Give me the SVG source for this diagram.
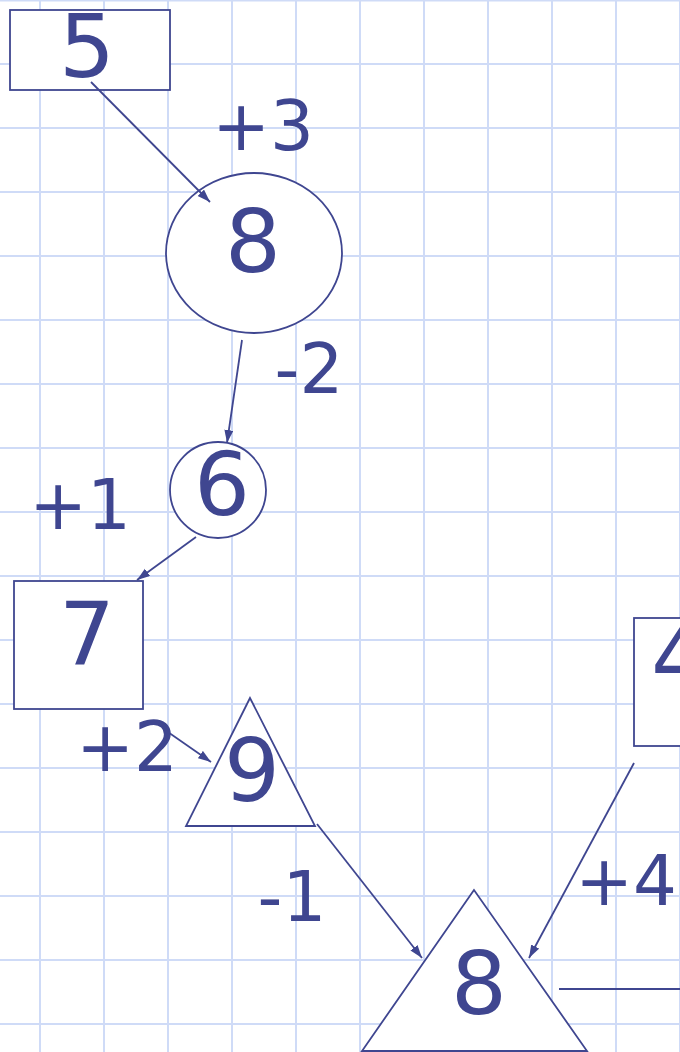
<svg xmlns="http://www.w3.org/2000/svg" width="680" height="1052" viewBox="0 0 680 1052">
  <style>
    .grid line { stroke: #cfdbf7; stroke-width: 2; }
    .shape { fill: #ffffff; stroke: #3f4690; stroke-width: 1.8; }
    .node { font-family: "DejaVu Sans", Verdana, sans-serif; font-size: 88px; fill: #3f4690; text-anchor: middle; }
    .label { font-family: "DejaVu Sans", Verdana, sans-serif; font-size: 69px; fill: #3f4690; text-anchor: middle; }
    .edge { stroke: #3f4690; stroke-width: 1.8; fill: none; }
  </style>
  <defs>
    <marker id="arrow" markerUnits="userSpaceOnUse" markerWidth="14" markerHeight="10" refX="13" refY="4.5" orient="auto">
      <path d="M0,0 L13,4.5 L0,9 Z" fill="#3f4690"/>
    </marker>
  </defs>
  <rect x="0" y="0" width="680" height="1052" fill="#ffffff"/>
  <g class="grid">
    <line x1="40" y1="0" x2="40" y2="1052"/>
    <line x1="104" y1="0" x2="104" y2="1052"/>
    <line x1="168" y1="0" x2="168" y2="1052"/>
    <line x1="232" y1="0" x2="232" y2="1052"/>
    <line x1="296" y1="0" x2="296" y2="1052"/>
    <line x1="360" y1="0" x2="360" y2="1052"/>
    <line x1="424" y1="0" x2="424" y2="1052"/>
    <line x1="488" y1="0" x2="488" y2="1052"/>
    <line x1="552" y1="0" x2="552" y2="1052"/>
    <line x1="616" y1="0" x2="616" y2="1052"/>
    <line x1="680" y1="0" x2="680" y2="1052"/>
    <line x1="0" y1="0.5" x2="680" y2="0.5"/>
    <line x1="0" y1="64" x2="680" y2="64"/>
    <line x1="0" y1="128" x2="680" y2="128"/>
    <line x1="0" y1="192" x2="680" y2="192"/>
    <line x1="0" y1="256" x2="680" y2="256"/>
    <line x1="0" y1="320" x2="680" y2="320"/>
    <line x1="0" y1="384" x2="680" y2="384"/>
    <line x1="0" y1="448" x2="680" y2="448"/>
    <line x1="0" y1="512" x2="680" y2="512"/>
    <line x1="0" y1="576" x2="680" y2="576"/>
    <line x1="0" y1="640" x2="680" y2="640"/>
    <line x1="0" y1="704" x2="680" y2="704"/>
    <line x1="0" y1="768" x2="680" y2="768"/>
    <line x1="0" y1="832" x2="680" y2="832"/>
    <line x1="0" y1="896" x2="680" y2="896"/>
    <line x1="0" y1="960" x2="680" y2="960"/>
    <line x1="0" y1="1024" x2="680" y2="1024"/>
  </g>
  <g id="node-5">
    <rect class="shape" x="10" y="10" width="160" height="80"/>
    <text class="node" x="87" y="77">5</text>
  </g>
  <g id="node-8-circle">
    <ellipse class="shape" cx="254" cy="253" rx="88" ry="80"/>
    <text class="node" x="253" y="272">8</text>
  </g>
  <g id="node-6">
    <circle class="shape" cx="218" cy="490" r="48"/>
    <text class="node" x="222" y="515">6</text>
  </g>
  <g id="node-7">
    <rect class="shape" x="14" y="581" width="129" height="128"/>
    <text class="node" x="87" y="665">7</text>
  </g>
  <g id="node-9">
    <polygon class="shape" points="250,698 186,826 315,826"/>
    <text class="node" x="252" y="801">9</text>
  </g>
  <g id="node-8-triangle">
    <polygon class="shape" points="474,890 362,1051 587,1051"/>
    <text class="node" x="479" y="1014">8</text>
  </g>
  <g id="node-4">
    <rect class="shape" x="634" y="618" width="100" height="128"/>
    <text class="node" x="651" y="688" style="text-anchor:start">4</text>
  </g>
  <g id="connectors">
    <line class="edge" x1="91" y1="82" x2="210" y2="202" marker-end="url(#arrow)"/>
    <line class="edge" x1="242" y1="340" x2="227" y2="443" marker-end="url(#arrow)"/>
    <line class="edge" x1="196" y1="537" x2="137" y2="580" marker-end="url(#arrow)"/>
    <line class="edge" x1="165" y1="730" x2="211" y2="762" marker-end="url(#arrow)"/>
    <line class="edge" x1="317" y1="824" x2="422" y2="958" marker-end="url(#arrow)"/>
    <line class="edge" x1="634" y1="763" x2="529" y2="958" marker-end="url(#arrow)"/>
    <line class="edge" x1="559" y1="989" x2="680" y2="989"/>
  </g>
  <g id="labels">
    <text class="label" x="263" y="150">+3</text>
    <text class="label" x="309" y="393">-2</text>
    <text class="label" x="80" y="529">+1</text>
    <text class="label" x="127" y="771">+2</text>
    <text class="label" x="292" y="921">-1</text>
    <text class="label" x="626" y="905">+4</text>
  </g>
</svg>
